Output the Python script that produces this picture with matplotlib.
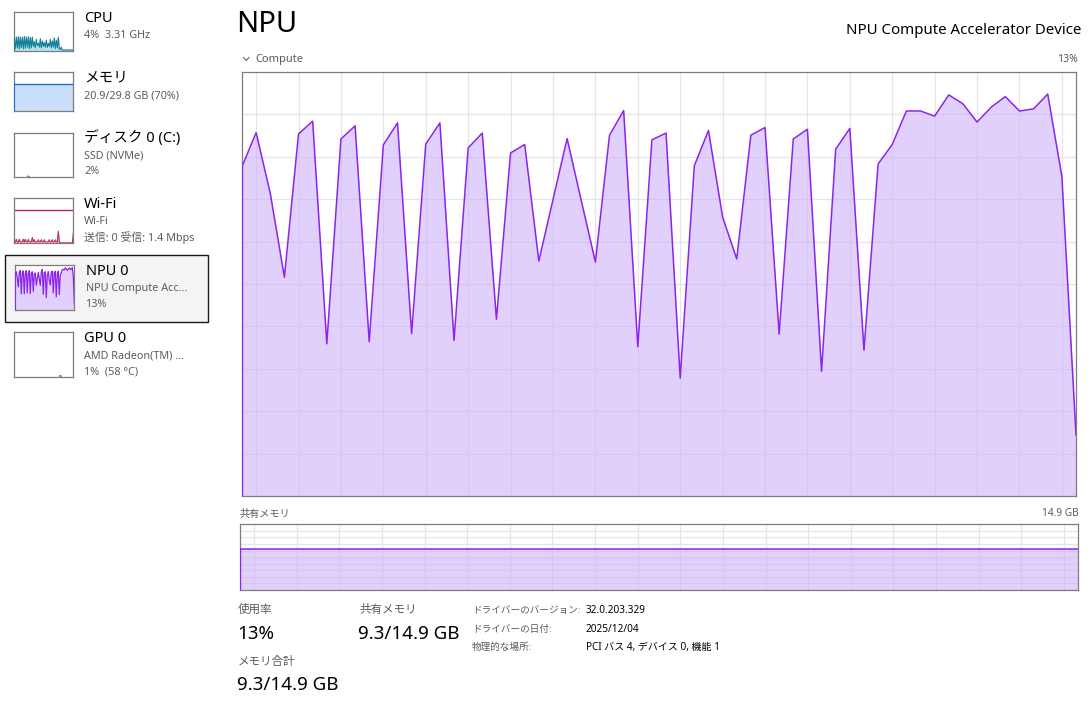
import numpy as np
import matplotlib
matplotlib.use('Agg')
import matplotlib.pyplot as plt
from matplotlib.patches import Rectangle
from matplotlib.lines import Line2D

# data (percent of graph height, 60 samples)
npu_util = [77.7, 85.7, 71.4, 51.6, 85.4, 88.4, 35.9, 84.2, 87.3, 36.4,
            82.8, 88.0, 38.3, 83.0, 88.0, 36.7, 82.1, 85.6, 41.7, 80.9,
            82.9, 55.4, 69.9, 84.3, 69.7, 55.2, 85.1, 90.9, 35.2, 84.0,
            85.6, 27.8, 77.9, 86.2, 65.8, 55.9, 85.1, 86.9, 38.2, 84.2,
            86.5, 29.4, 81.8, 86.7, 34.4, 78.3, 82.9, 90.8, 90.8, 89.6,
            94.6, 92.5, 88.2, 91.7, 94.2, 90.8, 91.3, 94.8, 75.4, 14.4]

cpu_hist = [32, 6, 36, 8, 37, 5, 36, 9, 35, 6,
            38, 7, 36, 10, 37, 6, 35, 8, 36, 12,
            24, 8, 30, 14, 20, 10, 32, 8, 26, 12,
            22, 10, 28, 9, 20, 12, 30, 8, 26, 10,
            34, 6, 28, 8, 36, 5, 4, 10, 3, 2,
            3, 2, 3, 3, 2, 3, 2, 3, 3, 3]

wifi_hist = [3, 3, 9, 3, 3, 9, 3, 3, 3, 9,
             3, 9, 3, 3, 9, 3, 3, 3, 13, 3,
             8, 3, 3, 3, 8, 3, 3, 8, 3, 3,
             8, 3, 3, 3, 3, 8, 3, 3, 8, 3,
             3, 8, 3, 3, 27, 3, 1, 1, 1, 1,
             1, 1, 1, 1, 1, 1, 1, 1, 1, 22]

disk_hist = [0] * 13 + [2, 3, 2] + [0] * 44
gpu_hist = [0] * 45 + [2, 3, 2] + [0] * 12
wifi_cap = 75
mem_used_pct = 70

shared_used = 9.3
shared_total = 14.9

sidebar = [
    ("CPU", ["4%  3.31 GHz"]),
    ("メモリ", ["20.9/29.8 GB (70%)"]),
    ("ディスク 0 (C:)", ["SSD (NVMe)", "2%"]),
    ("Wi-Fi", ["Wi-Fi", "送信: 0 受信: 1.4 Mbps"]),
    ("NPU 0", ["NPU Compute Acc...", "13%"]),
    ("GPU 0", ["AMD Radeon(TM) ...", "1%  (58 °C)"]),
]

driver_info = [
    ("ドライバーのバージョン:", "32.0.203.329"),
    ("ドライバーの日付:", "2025/12/04"),
    ("物理的な場所:", "PCI バス 4, デバイス 0, 機能 1"),
]

W, H = 1090, 725
plt.rcParams['font.family'] = ['Noto Sans', 'Noto Sans CJK JP']

fig = plt.figure(figsize=(W / 100, H / 100), dpi=100)
fig.patch.set_facecolor('white')

GRAY = '#5c5c5c'
NPU_LINE = '#8a24ee'


def box(x0, y0, x1, y1):
    return fig.add_axes([x0 / W, 1 - y1 / H, (x1 - x0) / W, (y1 - y0) / H])


def label(x, y, s, size, color='#000000', ha='left'):
    fig.text(x / W, 1 - y / H, s, fontsize=size, color=color, ha=ha, va='center')


def graph(ax, data, line, fill, alpha, lw, ymax=100, grid=None):
    t = np.arange(len(data))
    ax.set_xlim(0, len(data) - 1)
    ax.set_ylim(0, ymax)
    ax.set_facecolor('white')
    if grid is not None:
        ax.set_xticks(grid[0])
        ax.set_yticks(grid[1])
        ax.grid(True, color='#e6e6e6', lw=0.9)
        ax.set_axisbelow(True)
    else:
        ax.set_xticks([])
        ax.set_yticks([])
    ax.tick_params(length=0, labelbottom=False, labelleft=False)
    d = np.array(data, dtype=float)
    ax.fill_between(t, d, color=fill, alpha=alpha, lw=0, zorder=2)
    ax.plot(t, np.where(d > 0, d, np.nan), color=line, lw=lw, zorder=3)
    if d[0] > 0:
        ax.plot([0, 0], [0, d[0]], color=line, lw=lw * 1.4, zorder=4)
    for s in ax.spines.values():
        s.set_color('#7d7d7d')
        s.set_linewidth(0.9)


# ---- sidebar ----
fig.add_artist(Rectangle((4.5 / W, 1 - 321.5 / H), 203 / W, 67 / H,
                         transform=fig.transFigure, facecolor='#f4f4f4',
                         edgecolor='#1a1a1a', lw=1.0, zorder=-5))

thumbs = [(14.3, 12.3, 73.3, 51.0), (14.3, 72.3, 73.3, 111.0),
          (14.3, 132.7, 73.3, 177.3), (14.3, 198.3, 73.3, 243.3),
          (15.3, 265.3, 74.3, 310.0), (14.3, 332.3, 73.3, 377.0)]

a = box(*thumbs[0])
graph(a, cpu_hist, '#127f9a', '#a9d9e8', 0.8, 0.8)
a = box(*thumbs[1])
graph(a, [mem_used_pct] * 60, '#1d6fdc', '#c9defb', 1.0, 1.0)
a = box(*thumbs[2])
graph(a, disk_hist, '#5a9e17', '#cfe8b6', 1.0, 0.8)
a = box(*thumbs[3])
graph(a, wifi_hist, '#c2285d', '#efb9cc', 0.9, 0.8)
a.axhline(wifi_cap, color='#b8264f', lw=1.0)
a = box(*thumbs[4])
graph(a, npu_util, NPU_LINE, '#e2cffd', 1.0, 0.9)
a = box(*thumbs[5])
graph(a, gpu_hist, '#7a36d6', '#e2cffd', 1.0, 0.8)

name_y = [18, 78, 138.5, 204, 271.5, 339]
for (name, subs), y0 in zip(sidebar, name_y):
    x = 85.5 if name.startswith('NPU') else 84
    label(x, y0, name, 10.5)
    for k, s in enumerate(subs):
        label(x, y0 + 17.5 + k * 16, s, 7.8, GRAY)

# ---- header ----
label(236, 25, "NPU", 21)
label(1081, 30, "NPU Compute Accelerator Device", 10.8, ha='right')
fig.add_artist(Line2D([243.5 / W, 246.2 / W, 249 / W],
                      [1 - 57.5 / H, 1 - 60.5 / H, 1 - 57.5 / H],
                      transform=fig.transFigure, color='#666666', lw=0.8))
label(255, 59.5, "Compute", 8, GRAY)
label(1078, 59.5, "13%", 7.5, GRAY, ha='right')

# ---- main NPU graph ----
ax = box(242, 72, 1076, 496)
graph(ax, npu_util, NPU_LINE, '#caabfb', 0.55, 1.1,
      grid=(np.arange(1, 59, 3), np.arange(10, 100, 10)))

# ---- shared memory graph ----
label(240, 514, "共有メモリ", 7.3, GRAY)
label(1079, 514, f"{shared_total} GB", 7.3, GRAY, ha='right')
ax2 = box(240, 524.3, 1078, 590)
graph(ax2, [shared_used / shared_total * 100] * 60, NPU_LINE, '#caabfb', 0.55, 1.1,
      grid=(np.arange(1, 59, 3), np.arange(10, 100, 10)))

# ---- stats ----
label(238, 610.5, "使用率", 8.3, GRAY)
label(237, 634, "13%", 13.5)
label(238, 662.5, "メモリ合計", 8.3, GRAY)
label(237, 684.5, f"{shared_used}/{shared_total} GB", 13.5)
label(359, 610.5, "共有メモリ", 8.3, GRAY)
label(358, 634, f"{shared_used}/{shared_total} GB", 13.5)

for k, (key, val) in enumerate(driver_info):
    y = 610.5 + k * 18.5
    label(472, y, key, 6.9, GRAY)
    label(586, y, val, 7.2)

fig.savefig('out.png', dpi=100, facecolor='white')
